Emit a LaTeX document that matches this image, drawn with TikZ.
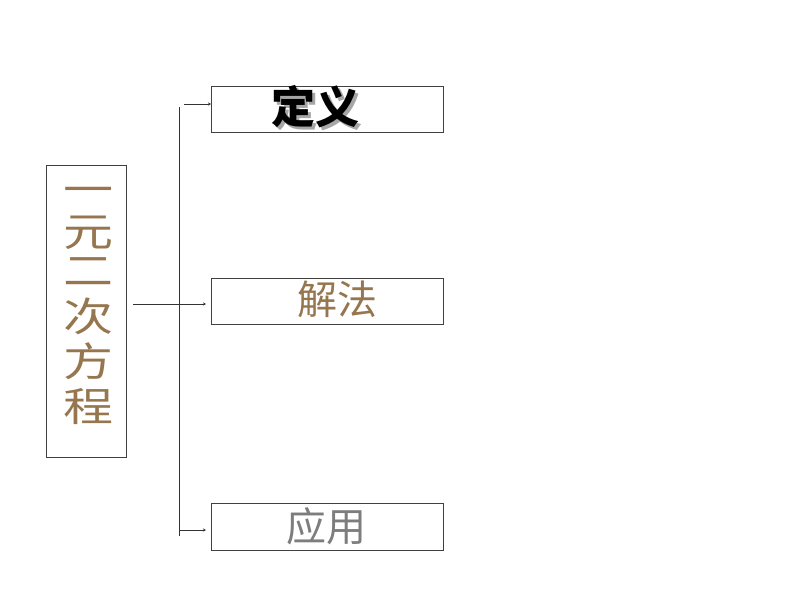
\documentclass[tikz,border=0pt]{standalone}
\usepackage{fontspec}
\newfontfamily\cjk{Noto Sans CJK SC}
\usetikzlibrary{arrows.meta}
\definecolor{gold}{RGB}{150,118,78}
\definecolor{grayt}{RGB}{125,125,125}
\begin{document}
\begin{tikzpicture}[x=1pt,y=-1pt,
  box/.style={draw=black!75,line width=0.8pt,inner sep=0pt},
  conn/.style={line width=0.6pt,draw=black!80},
  arr/.style={conn,-{Stealth[length=3pt,width=3pt]}}]
\useasboundingbox (0,0) rectangle (794,596);
\node[box,minimum width=80,minimum height=292,anchor=north west] (main) at (46,165) {};
\node[font=\cjk\fontsize{40}{39}\selectfont,text=gold,anchor=center] (maintxt) at (88,305)
  {\scalebox{1.25}[1]{\begin{tabular}{@{}c@{}}一\\元\\二\\次\\方\\程\end{tabular}}};
\node[box,minimum width=232,minimum height=46,anchor=north west] (def) at (211,86) {};
\node[box,minimum width=232,minimum height=46,anchor=north west] (sol) at (211,278) {};
\node[box,minimum width=232,minimum height=47,anchor=north west] (app) at (211,503) {};
\node[font=\cjk\bfseries\fontsize{44}{44}\selectfont,text=black] (deftxt) at (315,108)
  {\makebox[0pt][l]{\hspace{3pt}\raisebox{-3pt}{\color{black!35}定义}}定义};
\node[font=\cjk\fontsize{40}{40}\selectfont,text=gold] (soltxt) at (337,299) {解法};
\node[font=\cjk\fontsize{40}{40}\selectfont,text=grayt] (apptxt) at (326,526) {应用};
\coordinate (vt) at (179,107);
\coordinate (vb) at (179,536);
\coordinate (hm) at (179,304);
\coordinate (hl) at (133,304);
\coordinate (a1) at (184,104);
\coordinate (a2) at (180,304);
\coordinate (a3) at (179,530);
\draw[conn] (vt) -- (vb);
\draw[conn] (hl) -- (hm);
\draw[arr] (a1) -- (def.west |- a1);
\draw[arr] (a2) -- ([xshift=-5]sol.west |- a2);
\draw[arr] (a3) -- ([xshift=-5]app.west |- a3);
\end{tikzpicture}
\end{document}
